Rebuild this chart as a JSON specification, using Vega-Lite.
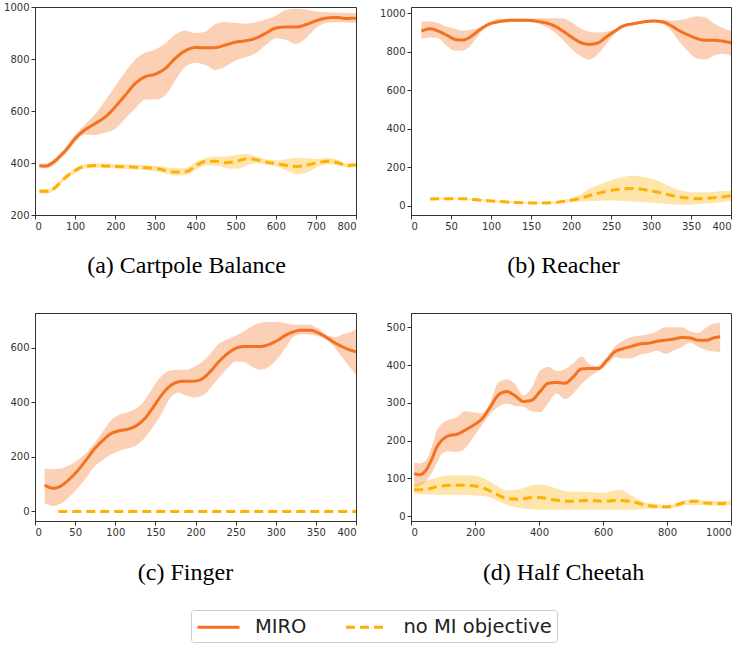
{
  "$schema": "https://vega.github.io/schema/vega-lite/v6.json",
  "padding": {"left": 3, "top": 1, "right": 0, "bottom": 0},
  "background": "white",
  "datasets": {
    "a": [
      {"series":"MIRO","x":11,"m":390,"lo":380,"hi":398},
      {"series":"MIRO","x":25,"m":388,"lo":380,"hi":397},
      {"series":"MIRO","x":40,"m":397,"lo":385,"hi":405},
      {"series":"MIRO","x":60,"m":423,"lo":410,"hi":432},
      {"series":"MIRO","x":80,"m":455,"lo":442,"hi":468},
      {"series":"MIRO","x":100,"m":494,"lo":480,"hi":508},
      {"series":"MIRO","x":125,"m":528,"lo":510,"hi":548},
      {"series":"MIRO","x":150,"m":552,"lo":508,"hi":588},
      {"series":"MIRO","x":175,"m":577,"lo":517,"hi":640},
      {"series":"MIRO","x":200,"m":616,"lo":532,"hi":695},
      {"series":"MIRO","x":225,"m":661,"lo":571,"hi":750},
      {"series":"MIRO","x":250,"m":706,"lo":610,"hi":798},
      {"series":"MIRO","x":275,"m":732,"lo":644,"hi":825},
      {"series":"MIRO","x":300,"m":742,"lo":644,"hi":837},
      {"series":"MIRO","x":325,"m":764,"lo":661,"hi":860},
      {"series":"MIRO","x":350,"m":803,"lo":719,"hi":895},
      {"series":"MIRO","x":375,"m":832,"lo":771,"hi":910},
      {"series":"MIRO","x":400,"m":844,"lo":786,"hi":900},
      {"series":"MIRO","x":425,"m":843,"lo":777,"hi":906},
      {"series":"MIRO","x":450,"m":844,"lo":758,"hi":935},
      {"series":"MIRO","x":475,"m":854,"lo":771,"hi":942},
      {"series":"MIRO","x":500,"m":865,"lo":794,"hi":938},
      {"series":"MIRO","x":525,"m":870,"lo":807,"hi":936},
      {"series":"MIRO","x":550,"m":880,"lo":822,"hi":941},
      {"series":"MIRO","x":575,"m":899,"lo":854,"hi":952},
      {"series":"MIRO","x":600,"m":919,"lo":880,"hi":966},
      {"series":"MIRO","x":625,"m":923,"lo":874,"hi":988},
      {"series":"MIRO","x":650,"m":923,"lo":858,"hi":993},
      {"series":"MIRO","x":675,"m":932,"lo":880,"hi":990},
      {"series":"MIRO","x":700,"m":947,"lo":919,"hi":983},
      {"series":"MIRO","x":725,"m":957,"lo":938,"hi":980},
      {"series":"MIRO","x":750,"m":960,"lo":941,"hi":979},
      {"series":"MIRO","x":775,"m":956,"lo":940,"hi":978},
      {"series":"MIRO","x":800,"m":957,"lo":938,"hi":977},
      {"series":"no MI objective","x":11,"m":291,"lo":283,"hi":299},
      {"series":"no MI objective","x":30,"m":291,"lo":283,"hi":299},
      {"series":"no MI objective","x":50,"m":305,"lo":296,"hi":314},
      {"series":"no MI objective","x":67,"m":332,"lo":323,"hi":341},
      {"series":"no MI objective","x":100,"m":371,"lo":362,"hi":380},
      {"series":"no MI objective","x":126,"m":388,"lo":380,"hi":396},
      {"series":"no MI objective","x":151,"m":390,"lo":382,"hi":398},
      {"series":"no MI objective","x":201,"m":387,"lo":379,"hi":395},
      {"series":"no MI objective","x":251,"m":384,"lo":375,"hi":393},
      {"series":"no MI objective","x":302,"m":378,"lo":368,"hi":388},
      {"series":"no MI objective","x":352,"m":365,"lo":352,"hi":380},
      {"series":"no MI objective","x":377,"m":367,"lo":354,"hi":382},
      {"series":"no MI objective","x":402,"m":390,"lo":375,"hi":405},
      {"series":"no MI objective","x":427,"m":407,"lo":390,"hi":420},
      {"series":"no MI objective","x":452,"m":407,"lo":390,"hi":425},
      {"series":"no MI objective","x":477,"m":401,"lo":380,"hi":425},
      {"series":"no MI objective","x":503,"m":407,"lo":378,"hi":432},
      {"series":"no MI objective","x":528,"m":416,"lo":390,"hi":435},
      {"series":"no MI objective","x":553,"m":412,"lo":400,"hi":424},
      {"series":"no MI objective","x":578,"m":403,"lo":393,"hi":413},
      {"series":"no MI objective","x":603,"m":397,"lo":387,"hi":410},
      {"series":"no MI objective","x":628,"m":390,"lo":370,"hi":415},
      {"series":"no MI objective","x":653,"m":387,"lo":356,"hi":420},
      {"series":"no MI objective","x":679,"m":393,"lo":365,"hi":418},
      {"series":"no MI objective","x":704,"m":401,"lo":385,"hi":415},
      {"series":"no MI objective","x":729,"m":407,"lo":395,"hi":420},
      {"series":"no MI objective","x":754,"m":401,"lo":392,"hi":412},
      {"series":"no MI objective","x":779,"m":390,"lo":382,"hi":398},
      {"series":"no MI objective","x":800,"m":393,"lo":385,"hi":401}
    ],
    "b": [
      {"series":"MIRO","x":13,"m":908,"lo":865,"hi":957},
      {"series":"MIRO","x":24,"m":920,"lo":875,"hi":958},
      {"series":"MIRO","x":34,"m":908,"lo":870,"hi":950},
      {"series":"MIRO","x":45,"m":886,"lo":830,"hi":930},
      {"series":"MIRO","x":55,"m":865,"lo":805,"hi":920},
      {"series":"MIRO","x":64,"m":861,"lo":805,"hi":910},
      {"series":"MIRO","x":74,"m":877,"lo":830,"hi":915},
      {"series":"MIRO","x":85,"m":912,"lo":890,"hi":925},
      {"series":"MIRO","x":97,"m":943,"lo":935,"hi":952},
      {"series":"MIRO","x":110,"m":957,"lo":950,"hi":972},
      {"series":"MIRO","x":127,"m":964,"lo":955,"hi":972},
      {"series":"MIRO","x":143,"m":964,"lo":957,"hi":972},
      {"series":"MIRO","x":160,"m":957,"lo":945,"hi":975},
      {"series":"MIRO","x":177,"m":939,"lo":910,"hi":975},
      {"series":"MIRO","x":190,"m":908,"lo":860,"hi":975},
      {"series":"MIRO","x":202,"m":873,"lo":810,"hi":950},
      {"series":"MIRO","x":213,"m":847,"lo":775,"hi":920},
      {"series":"MIRO","x":223,"m":839,"lo":760,"hi":905},
      {"series":"MIRO","x":234,"m":847,"lo":790,"hi":900},
      {"series":"MIRO","x":244,"m":877,"lo":840,"hi":905},
      {"series":"MIRO","x":255,"m":908,"lo":895,"hi":918},
      {"series":"MIRO","x":265,"m":934,"lo":925,"hi":942},
      {"series":"MIRO","x":278,"m":946,"lo":938,"hi":952},
      {"series":"MIRO","x":290,"m":955,"lo":948,"hi":961},
      {"series":"MIRO","x":303,"m":960,"lo":953,"hi":964},
      {"series":"MIRO","x":315,"m":955,"lo":945,"hi":965},
      {"series":"MIRO","x":326,"m":934,"lo":905,"hi":962},
      {"series":"MIRO","x":336,"m":908,"lo":850,"hi":965},
      {"series":"MIRO","x":347,"m":887,"lo":800,"hi":975},
      {"series":"MIRO","x":357,"m":870,"lo":765,"hi":985},
      {"series":"MIRO","x":368,"m":860,"lo":760,"hi":980},
      {"series":"MIRO","x":378,"m":860,"lo":780,"hi":950},
      {"series":"MIRO","x":389,"m":856,"lo":790,"hi":925},
      {"series":"MIRO","x":400,"m":847,"lo":780,"hi":910},
      {"series":"no MI objective","x":24,"m":35,"lo":30,"hi":40},
      {"series":"no MI objective","x":45,"m":37,"lo":32,"hi":42},
      {"series":"no MI objective","x":64,"m":36,"lo":31,"hi":41},
      {"series":"no MI objective","x":85,"m":30,"lo":25,"hi":35},
      {"series":"no MI objective","x":110,"m":22,"lo":17,"hi":27},
      {"series":"no MI objective","x":127,"m":18,"lo":13,"hi":23},
      {"series":"no MI objective","x":150,"m":15,"lo":10,"hi":20},
      {"series":"no MI objective","x":170,"m":15,"lo":10,"hi":21},
      {"series":"no MI objective","x":190,"m":22,"lo":15,"hi":30},
      {"series":"no MI objective","x":202,"m":30,"lo":20,"hi":42},
      {"series":"no MI objective","x":213,"m":40,"lo":22,"hi":62},
      {"series":"no MI objective","x":223,"m":53,"lo":24,"hi":88},
      {"series":"no MI objective","x":234,"m":65,"lo":26,"hi":108},
      {"series":"no MI objective","x":244,"m":75,"lo":28,"hi":122},
      {"series":"no MI objective","x":255,"m":83,"lo":28,"hi":140},
      {"series":"no MI objective","x":265,"m":88,"lo":25,"hi":150},
      {"series":"no MI objective","x":278,"m":90,"lo":22,"hi":156},
      {"series":"no MI objective","x":290,"m":85,"lo":18,"hi":150},
      {"series":"no MI objective","x":303,"m":75,"lo":15,"hi":138},
      {"series":"no MI objective","x":315,"m":65,"lo":12,"hi":118},
      {"series":"no MI objective","x":326,"m":53,"lo":8,"hi":95},
      {"series":"no MI objective","x":336,"m":45,"lo":5,"hi":80},
      {"series":"no MI objective","x":347,"m":40,"lo":5,"hi":72},
      {"series":"no MI objective","x":357,"m":37,"lo":8,"hi":70},
      {"series":"no MI objective","x":368,"m":38,"lo":10,"hi":70},
      {"series":"no MI objective","x":378,"m":42,"lo":15,"hi":72},
      {"series":"no MI objective","x":389,"m":46,"lo":20,"hi":75},
      {"series":"no MI objective","x":400,"m":52,"lo":25,"hi":78}
    ],
    "c": [
      {"series":"MIRO","x":12,"m":97,"lo":30,"hi":158},
      {"series":"MIRO","x":23,"m":85,"lo":20,"hi":155},
      {"series":"MIRO","x":33,"m":95,"lo":30,"hi":158},
      {"series":"MIRO","x":43,"m":119,"lo":55,"hi":170},
      {"series":"MIRO","x":54,"m":153,"lo":88,"hi":190},
      {"series":"MIRO","x":64,"m":190,"lo":125,"hi":215},
      {"series":"MIRO","x":74,"m":229,"lo":165,"hi":250},
      {"series":"MIRO","x":85,"m":262,"lo":190,"hi":295},
      {"series":"MIRO","x":95,"m":286,"lo":210,"hi":335},
      {"series":"MIRO","x":105,"m":296,"lo":222,"hi":355},
      {"series":"MIRO","x":116,"m":302,"lo":232,"hi":365},
      {"series":"MIRO","x":126,"m":314,"lo":242,"hi":378},
      {"series":"MIRO","x":136,"m":338,"lo":268,"hi":405},
      {"series":"MIRO","x":147,"m":381,"lo":310,"hi":455},
      {"series":"MIRO","x":157,"m":424,"lo":355,"hi":495},
      {"series":"MIRO","x":167,"m":457,"lo":410,"hi":515},
      {"series":"MIRO","x":178,"m":475,"lo":435,"hi":520},
      {"series":"MIRO","x":188,"m":478,"lo":425,"hi":520},
      {"series":"MIRO","x":198,"m":478,"lo":418,"hi":530},
      {"series":"MIRO","x":209,"m":488,"lo":425,"hi":550},
      {"series":"MIRO","x":219,"m":515,"lo":455,"hi":580},
      {"series":"MIRO","x":229,"m":549,"lo":490,"hi":615},
      {"series":"MIRO","x":240,"m":579,"lo":525,"hi":632},
      {"series":"MIRO","x":250,"m":598,"lo":550,"hi":645},
      {"series":"MIRO","x":260,"m":605,"lo":548,"hi":660},
      {"series":"MIRO","x":271,"m":605,"lo":530,"hi":680},
      {"series":"MIRO","x":281,"m":605,"lo":520,"hi":692},
      {"series":"MIRO","x":291,"m":612,"lo":530,"hi":695},
      {"series":"MIRO","x":302,"m":627,"lo":560,"hi":695},
      {"series":"MIRO","x":312,"m":646,"lo":600,"hi":690},
      {"series":"MIRO","x":322,"m":659,"lo":640,"hi":685},
      {"series":"MIRO","x":333,"m":665,"lo":650,"hi":685},
      {"series":"MIRO","x":343,"m":665,"lo":648,"hi":685},
      {"series":"MIRO","x":353,"m":655,"lo":643,"hi":670},
      {"series":"MIRO","x":364,"m":637,"lo":628,"hi":646},
      {"series":"MIRO","x":374,"m":618,"lo":600,"hi":640},
      {"series":"MIRO","x":384,"m":603,"lo":560,"hi":650},
      {"series":"MIRO","x":395,"m":590,"lo":520,"hi":660},
      {"series":"MIRO","x":400,"m":586,"lo":500,"hi":668},
      {"series":"no MI objective","x":29,"m":0,"lo":0,"hi":0},
      {"series":"no MI objective","x":100,"m":0,"lo":0,"hi":0},
      {"series":"no MI objective","x":200,"m":0,"lo":0,"hi":0},
      {"series":"no MI objective","x":300,"m":0,"lo":0,"hi":0},
      {"series":"no MI objective","x":400,"m":0,"lo":0,"hi":0}
    ],
    "d": [
      {"series":"MIRO","x":10,"m":113,"lo":76,"hi":142},
      {"series":"MIRO","x":28,"m":110,"lo":80,"hi":140},
      {"series":"MIRO","x":49,"m":125,"lo":95,"hi":150},
      {"series":"MIRO","x":65,"m":151,"lo":115,"hi":185},
      {"series":"MIRO","x":80,"m":182,"lo":140,"hi":225},
      {"series":"MIRO","x":96,"m":201,"lo":165,"hi":245},
      {"series":"MIRO","x":117,"m":213,"lo":172,"hi":255},
      {"series":"MIRO","x":143,"m":217,"lo":170,"hi":262},
      {"series":"MIRO","x":169,"m":228,"lo":180,"hi":278},
      {"series":"MIRO","x":195,"m":241,"lo":210,"hi":275},
      {"series":"MIRO","x":221,"m":257,"lo":240,"hi":272},
      {"series":"MIRO","x":247,"m":288,"lo":270,"hi":302},
      {"series":"MIRO","x":273,"m":321,"lo":290,"hi":355},
      {"series":"MIRO","x":299,"m":330,"lo":298,"hi":362},
      {"series":"MIRO","x":325,"m":319,"lo":292,"hi":350},
      {"series":"MIRO","x":351,"m":304,"lo":290,"hi":320},
      {"series":"MIRO","x":377,"m":307,"lo":278,"hi":340},
      {"series":"MIRO","x":403,"m":330,"lo":275,"hi":385},
      {"series":"MIRO","x":429,"m":352,"lo":300,"hi":395},
      {"series":"MIRO","x":455,"m":354,"lo":325,"hi":385},
      {"series":"MIRO","x":481,"m":352,"lo":310,"hi":390},
      {"series":"MIRO","x":507,"m":369,"lo":325,"hi":405},
      {"series":"MIRO","x":533,"m":390,"lo":350,"hi":423},
      {"series":"MIRO","x":559,"m":391,"lo":370,"hi":402},
      {"series":"MIRO","x":585,"m":391,"lo":384,"hi":398},
      {"series":"MIRO","x":611,"m":412,"lo":400,"hi":420},
      {"series":"MIRO","x":638,"m":436,"lo":420,"hi":450},
      {"series":"MIRO","x":664,"m":444,"lo":418,"hi":465},
      {"series":"MIRO","x":690,"m":450,"lo":418,"hi":475},
      {"series":"MIRO","x":716,"m":456,"lo":428,"hi":478},
      {"series":"MIRO","x":742,"m":458,"lo":432,"hi":482},
      {"series":"MIRO","x":768,"m":463,"lo":438,"hi":490},
      {"series":"MIRO","x":794,"m":466,"lo":430,"hi":500},
      {"series":"MIRO","x":820,"m":469,"lo":438,"hi":500},
      {"series":"MIRO","x":846,"m":473,"lo":448,"hi":500},
      {"series":"MIRO","x":872,"m":472,"lo":460,"hi":490},
      {"series":"MIRO","x":898,"m":466,"lo":448,"hi":485},
      {"series":"MIRO","x":924,"m":466,"lo":440,"hi":500},
      {"series":"MIRO","x":945,"m":472,"lo":436,"hi":510},
      {"series":"MIRO","x":966,"m":475,"lo":435,"hi":512},
      {"series":"no MI objective","x":10,"m":70,"lo":60,"hi":85},
      {"series":"no MI objective","x":40,"m":70,"lo":58,"hi":92},
      {"series":"no MI objective","x":80,"m":78,"lo":57,"hi":102},
      {"series":"no MI objective","x":120,"m":82,"lo":57,"hi":108},
      {"series":"no MI objective","x":170,"m":82,"lo":57,"hi":108},
      {"series":"no MI objective","x":200,"m":80,"lo":55,"hi":107},
      {"series":"no MI objective","x":240,"m":70,"lo":52,"hi":95},
      {"series":"no MI objective","x":270,"m":57,"lo":42,"hi":80},
      {"series":"no MI objective","x":300,"m":47,"lo":30,"hi":68},
      {"series":"no MI objective","x":340,"m":45,"lo":22,"hi":72},
      {"series":"no MI objective","x":380,"m":50,"lo":18,"hi":82},
      {"series":"no MI objective","x":410,"m":49,"lo":17,"hi":84},
      {"series":"no MI objective","x":450,"m":43,"lo":17,"hi":75},
      {"series":"no MI objective","x":500,"m":40,"lo":17,"hi":65},
      {"series":"no MI objective","x":550,"m":42,"lo":17,"hi":65},
      {"series":"no MI objective","x":600,"m":40,"lo":17,"hi":62},
      {"series":"no MI objective","x":650,"m":42,"lo":17,"hi":70},
      {"series":"no MI objective","x":700,"m":37,"lo":17,"hi":50},
      {"series":"no MI objective","x":730,"m":30,"lo":19,"hi":38},
      {"series":"no MI objective","x":770,"m":26,"lo":20,"hi":32},
      {"series":"no MI objective","x":800,"m":25,"lo":20,"hi":30},
      {"series":"no MI objective","x":830,"m":30,"lo":24,"hi":36},
      {"series":"no MI objective","x":860,"m":38,"lo":30,"hi":43},
      {"series":"no MI objective","x":890,"m":40,"lo":30,"hi":45},
      {"series":"no MI objective","x":920,"m":35,"lo":29,"hi":41},
      {"series":"no MI objective","x":960,"m":34,"lo":28,"hi":40},
      {"series":"no MI objective","x":1000,"m":35,"lo":30,"hi":42}
    ]
  },
  "columns": 2,
  "bounds": "flush",
  "spacing": {"row": 98, "column": 55},
  "resolve": {
    "scale": {"x": "independent", "y": "independent", "color": "shared", "strokeDash": "shared"},
    "axis": {"x": "independent", "y": "independent"}
  },
  "concat": [
    {
      "width": 321, "height": 208,
      "data": {"name": "a"},
      "encoding": {
        "x": {"field": "x", "type": "quantitative", "scale": {"domain": [0, 800], "nice": false, "zero": false},
              "axis": {"values": [0,100,200,300,400,500,600,700,800], "title": "(a) Cartpole Balance", "titleX": 151, "titleY": 50}}
      },
      "layer": [
        {"transform": [{"filter": "datum.series === 'MIRO'"}],
         "mark": {"type": "area", "interpolate": "monotone", "color": "#f4711f", "opacity": 0.33, "clip": true},
         "encoding": {
           "y": {"field": "lo", "type": "quantitative", "scale": {"domain": [200, 1000], "nice": false, "zero": false},
                 "axis": {"values": [200,300,400,500,600,700,800,900,1000], "title": null}},
           "y2": {"field": "hi"}
         }},
        {"transform": [{"filter": "datum.series !== 'MIRO'"}],
         "mark": {"type": "area", "interpolate": "monotone", "color": "#ffb000", "opacity": 0.33, "clip": true},
         "encoding": {
           "y": {"field": "lo", "type": "quantitative"},
           "y2": {"field": "hi"}
         }},
        {"mark": {"type": "line", "interpolate": "monotone", "strokeWidth": 3, "clip": true},
         "encoding": {
           "y": {"field": "m", "type": "quantitative"},
           "color": {"field": "series", "type": "nominal", "scale": {"domain": ["MIRO", "no MI objective"], "range": ["#f4711f", "#ffb000"]},
                     "legend": {"orient": "none", "legendX": 156, "legendY": 603, "direction": "horizontal", "title": null}},
           "strokeDash": {"field": "series", "type": "nominal", "scale": {"domain": ["MIRO", "no MI objective"], "range": [[1, 0], [9, 5]]},
                     "legend": {"orient": "none", "legendX": 156, "legendY": 603, "direction": "horizontal", "title": null}}
         }}
      ]
    },
    {
      "width": 320, "height": 208,
      "data": {"name": "b"},
      "encoding": {
        "x": {"field": "x", "type": "quantitative", "scale": {"domain": [0, 400], "nice": false, "zero": false},
              "axis": {"values": [0,50,100,150,200,250,300,350,400], "title": "(b) Reacher", "titleX": 152, "titleY": 50}}
      },
      "layer": [
        {"transform": [{"filter": "datum.series === 'MIRO'"}],
         "mark": {"type": "area", "interpolate": "monotone", "color": "#f4711f", "opacity": 0.33, "clip": true},
         "encoding": {
           "y": {"field": "lo", "type": "quantitative", "scale": {"domain": [-48, 1033], "nice": false, "zero": false},
                 "axis": {"values": [0,200,400,600,800,1000], "title": null}},
           "y2": {"field": "hi"}
         }},
        {"transform": [{"filter": "datum.series !== 'MIRO'"}],
         "mark": {"type": "area", "interpolate": "monotone", "color": "#ffb000", "opacity": 0.33, "clip": true},
         "encoding": {
           "y": {"field": "lo", "type": "quantitative"},
           "y2": {"field": "hi"}
         }},
        {"mark": {"type": "line", "interpolate": "monotone", "strokeWidth": 3, "clip": true},
         "encoding": {
           "y": {"field": "m", "type": "quantitative"},
           "color": {"field": "series", "type": "nominal"},
           "strokeDash": {"field": "series", "type": "nominal"}
         }}
      ]
    },
    {
      "width": 321, "height": 208,
      "data": {"name": "c"},
      "encoding": {
        "x": {"field": "x", "type": "quantitative", "scale": {"domain": [0, 400], "nice": false, "zero": false},
              "axis": {"values": [0,50,100,150,200,250,300,350,400], "title": "(c) Finger", "titleX": 150, "titleY": 51}}
      },
      "layer": [
        {"transform": [{"filter": "datum.series === 'MIRO'"}],
         "mark": {"type": "area", "interpolate": "monotone", "color": "#f4711f", "opacity": 0.33, "clip": true},
         "encoding": {
           "y": {"field": "lo", "type": "quantitative", "scale": {"domain": [-35, 728], "nice": false, "zero": false},
                 "axis": {"values": [0,100,200,300,400,500,600,700], "title": null}},
           "y2": {"field": "hi"}
         }},
        {"mark": {"type": "line", "interpolate": "monotone", "strokeWidth": 3, "clip": true},
         "encoding": {
           "y": {"field": "m", "type": "quantitative"},
           "color": {"field": "series", "type": "nominal"},
           "strokeDash": {"field": "series", "type": "nominal"}
         }}
      ]
    },
    {
      "width": 320, "height": 208,
      "data": {"name": "d"},
      "encoding": {
        "x": {"field": "x", "type": "quantitative", "scale": {"domain": [0, 1000], "nice": false, "zero": false},
              "axis": {"values": [0,200,400,600,800,1000], "title": "(d) Half Cheetah", "titleX": 152, "titleY": 51}}
      },
      "layer": [
        {"transform": [{"filter": "datum.series === 'MIRO'"}],
         "mark": {"type": "area", "interpolate": "monotone", "color": "#f4711f", "opacity": 0.33, "clip": true},
         "encoding": {
           "y": {"field": "lo", "type": "quantitative", "scale": {"domain": [-12.5, 538], "nice": false, "zero": false},
                 "axis": {"values": [0,100,200,300,400,500], "title": null}},
           "y2": {"field": "hi"}
         }},
        {"transform": [{"filter": "datum.series !== 'MIRO'"}],
         "mark": {"type": "area", "interpolate": "monotone", "color": "#ffb000", "opacity": 0.33, "clip": true},
         "encoding": {
           "y": {"field": "lo", "type": "quantitative"},
           "y2": {"field": "hi"}
         }},
        {"mark": {"type": "line", "interpolate": "monotone", "strokeWidth": 3, "clip": true},
         "encoding": {
           "y": {"field": "m", "type": "quantitative"},
           "color": {"field": "series", "type": "nominal"},
           "strokeDash": {"field": "series", "type": "nominal"}
         }}
      ]
    }
  ],
  "config": {
    "view": {"stroke": "#333", "strokeWidth": 1},
    "axis": {
      "grid": false, "format": "d",
      "labelFont": "DejaVu Sans", "labelFontSize": 10, "labelColor": "#333",
      "tickColor": "#333", "tickSize": 4, "labelPadding": 2,
      "domainColor": "#333",
      "titleFont": "Liberation Serif", "titleFontSize": 24, "titleFontWeight": "normal", "titleColor": "#000",
      "titleBaseline": "middle", "titleAlign": "center"
    },
    "legend": {
      "labelFont": "DejaVu Sans", "labelFontSize": 19.5, "labelColor": "#222",
      "symbolType": "M-1,0H3", "symbolSize": 441, "symbolStrokeWidth": 3,
      "strokeColor": "#cccccc", "fillColor": "white", "cornerRadius": 3, "padding": 5,
      "columnPadding": 32.5, "labelOffset": 35, "labelLimit": 300
    }
  }
}
